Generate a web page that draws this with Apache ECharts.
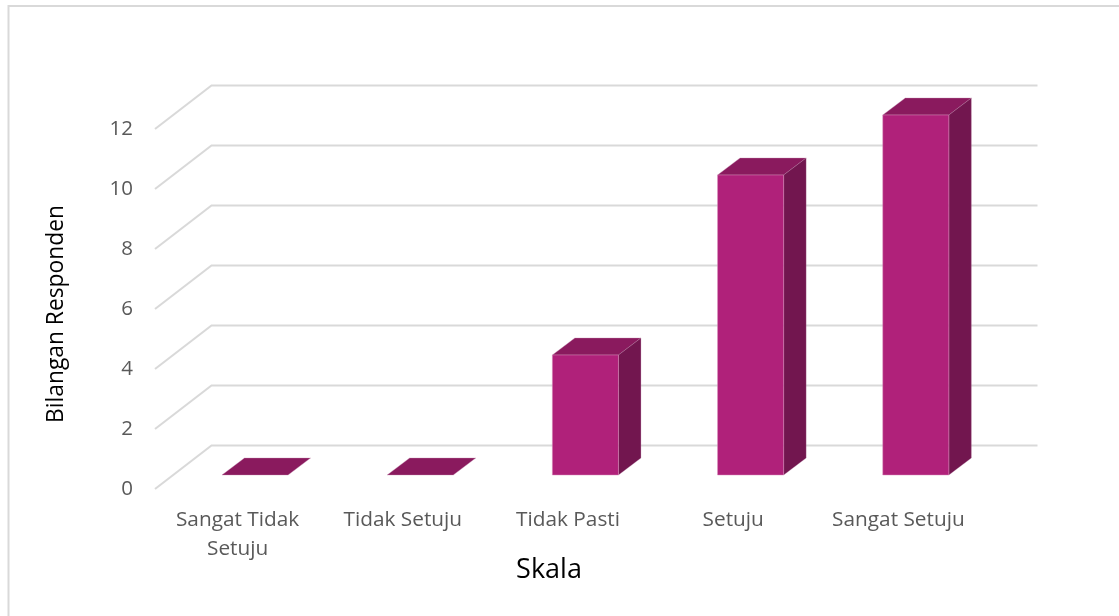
<!DOCTYPE html>
<html>
<head>
<meta charset="utf-8">
<style>html,body{margin:0;padding:0;background:#fff}#c{width:1119px;height:616px}</style>
<script src="https://cdn.jsdelivr.net/npm/echarts@6/dist/echarts.min.js"></script>
</head>
<body>
<div id="c"></div>
<script>
var categories = ['Sangat Tidak\nSetuju', 'Tidak Setuju', 'Tidak Pasti', 'Setuju', 'Sangat Setuju'];
var respondents = [0, 0, 4, 10, 12];
var valueTicks = [0, 2, 4, 6, 8, 10, 12];

var FONT = '"Open Sans", "Noto Sans", sans-serif';
var WALL = [56.5, -43.5];      // depth of the chart floor
var BAR_SHIFT = [17.4, -14];   // front of bars relative to the front plane
var BAR_DEPTH = [22.5, -17];   // depth of each bar

function renderWall(params, api) {
  var cs = params.coordSys;
  var p = api.coord([0, api.value(0)]);
  var y = p[1], x0 = cs.x, x1 = cs.x + cs.width;
  return {
    type: 'polyline',
    shape: { points: [[x0, y], [x0 + WALL[0], y + WALL[1]], [x1 + WALL[0], y + WALL[1]]] },
    style: { stroke: '#d9d9d9', lineWidth: 2, fill: null }
  };
}

function renderBar(params, api) {
  var top = api.coord([api.value(0), api.value(1)]);
  var base = api.coord([api.value(0), 0]);
  var w = api.size([1, 0])[0] * 0.4;
  var l = top[0] - w / 2 + BAR_SHIFT[0], r = l + w;
  var t = top[1] + BAR_SHIFT[1], b = base[1] + BAR_SHIFT[1];
  var dx = BAR_DEPTH[0], dy = BAR_DEPTH[1];
  var children = [];
  children.push({
    type: 'polygon',
    shape: { points: [[l, t], [l + dx, t + dy], [r + dx, t + dy], [r, t]] },
    style: { fill: '#8a1a5e', stroke: 'rgba(197,141,176,0.45)', lineWidth: 0.8 }
  });
  if (b - t > 0.5) {
    children.push({
      type: 'polygon',
      shape: { points: [[r, t], [r + dx, t + dy], [r + dx, b + dy], [r, b]] },
      style: { fill: '#72164f', stroke: 'rgba(183,127,163,0.35)', lineWidth: 0.8 }
    });
    children.push({
      type: 'rect',
      shape: { x: l, y: t, width: w, height: b - t },
      style: { fill: '#b0217a', stroke: 'rgba(216,141,188,0.6)', lineWidth: 0.8 }
    });
  }
  return { type: 'group', children: children };
}

var chart = echarts.init(document.getElementById('c'), null, { renderer: 'canvas' });
chart.setOption({
  animation: false,
  backgroundColor: '#ffffff',
  graphic: [{
    type: 'polyline',
    silent: true,
    z: 0,
    shape: { points: [[8.5, 620], [8.5, 6], [1125, 6]] },
    style: { stroke: '#d9d9d9', lineWidth: 2, fill: null }
  }],
  grid: { left: 155, right: 138, top: 129, bottom: 127 },
  xAxis: {
    type: 'category',
    data: categories,
    axisLine: { show: false },
    axisTick: { show: false },
    axisLabel: {
      color: '#595959', fontFamily: FONT, fontSize: 20.8, margin: 17,
      lineHeight: 29, interval: 0
    },
    name: 'Skala',
    nameLocation: 'middle',
    nameGap: 68,
    nameMoveOverlap: false,
    nameTextStyle: { color: '#000000', fontFamily: FONT, fontSize: 27, padding: [0, 38, 0, 0] }
  },
  yAxis: {
    type: 'value',
    min: 0,
    max: 12,
    interval: 2,
    splitLine: { show: false },
    axisLine: { show: false },
    axisTick: { show: false },
    axisLabel: { color: '#595959', fontFamily: FONT, fontSize: 20.5, margin: 22 },
    name: 'Bilangan Responden',
    nameLocation: 'middle',
    nameGap: 87,
    nameRotate: 90,
    nameTextStyle: { color: '#000000', fontFamily: FONT, fontSize: 22.8, padding: [0, 10, 0, 0] }
  },
  series: [
    {
      type: 'custom',
      name: 'Grid',
      silent: true,
      coordinateSystem: 'cartesian2d',
      encode: { y: 0 },
      data: valueTicks.map(function (v) { return [v]; }),
      renderItem: renderWall,
      z: 1
    },
    {
      type: 'custom',
      name: 'Bilangan Responden',
      coordinateSystem: 'cartesian2d',
      encode: { x: 0, y: 1 },
      data: respondents.map(function (v, i) { return [i, v]; }),
      renderItem: renderBar,
      z: 2
    }
  ]
});
</script>
</body>
</html>
